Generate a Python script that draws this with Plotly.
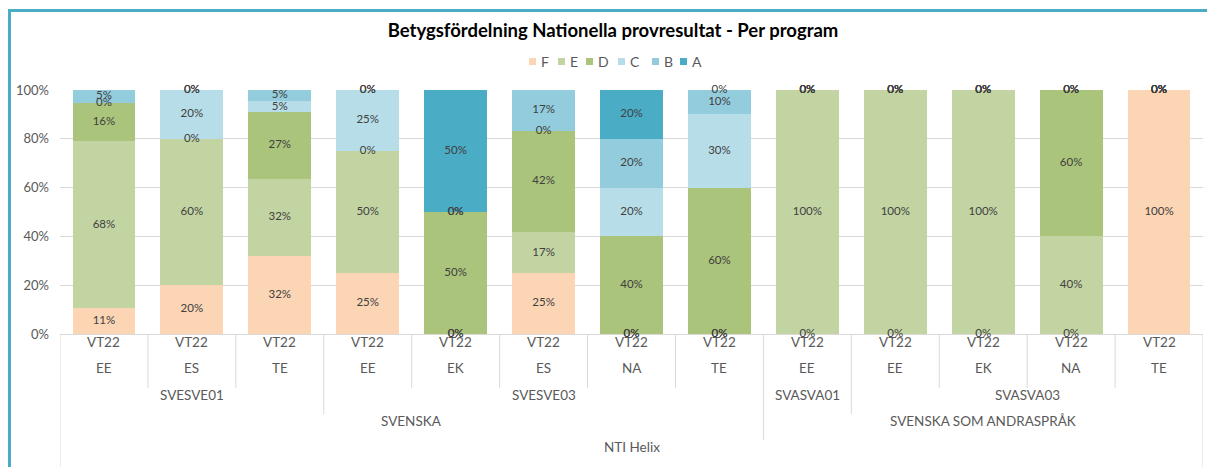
import plotly.graph_objects as go

# ---------------- data ----------------
terms = ["VT22"] * 13
programs = ["EE", "ES", "TE", "EE", "EK", "ES", "NA", "TE", "EE", "EE", "EK", "NA", "TE"]
courses = ["SVESVE01"] * 3 + ["SVESVE03"] * 5 + ["SVASVA01"] + ["SVASVA03"] * 4
subjects = ["SVENSKA"] * 8 + ["SVENSKA SOM ANDRASPRÅK"] * 5
schools = ["NTI Helix"] * 13

grades = ["F", "E", "D", "C", "B", "A"]
F = [10.53, 20, 31.82, 25, 0, 25, 0, 0, 0, 0, 0, 0, 100]
E = [68.42, 60, 31.82, 50, 0, 16.67, 0, 0, 100, 100, 100, 40, 0]
D = [15.79, 0, 27.27, 0, 50, 41.67, 40, 60, 0, 0, 0, 60, 0]
C = [0, 20, 4.55, 25, 0, 0, 20, 30, 0, 0, 0, 0, 0]
B = [5.26, 0, 4.55, 0, 0, 16.67, 20, 10, 0, 0, 0, 0, 0]
A = [0, 0, 0, 0, 50, 0, 20, 0, 0, 0, 0, 0, 0]
series = [F, E, D, C, B, A]
colors = ["#FCD5B5", "#C3D4A3", "#AAC47B", "#B7DEE8", "#93CDDD", "#4BACC6"]

y_ticks = [0, 20, 40, 60, 80, 100]
y_ticktext = ["0%", "20%", "40%", "60%", "80%", "100%"]
title_text = "Betygsfördelning Nationella provresultat - Per program"

# ---------------- geometry ----------------
# the page body adds an 8px margin, so figure pixel = page pixel - OFF
OFF = 8
PAGE_W, PAGE_H = 1215, 467
W, H = PAGE_W - OFF, PAGE_H - OFF
PAGE_L, PAGE_R, PAGE_T, PAGE_B = 60, 1203, 90, 334
ML = PAGE_L - OFF
MT = PAGE_T - OFF
MR = W - (PAGE_R - OFF)
MB = H - (PAGE_B - OFF)
PW = PAGE_R - PAGE_L
PH = PAGE_B - PAGE_T


def py(p):
    """page pixel row -> paper y"""
    return (PAGE_B - p) / PH


def px(p):
    """page pixel col -> paper x"""
    return (p - PAGE_L) / PW


AXIS_FONT = "Lato"
LABEL_FONT = "Lato"
n = len(programs)
xs = list(range(n))

fig = go.Figure()

# stacked bars
for g, vals, col in zip(grades, series, colors):
    fig.add_trace(go.Bar(
        x=xs, y=vals, name=g, marker=dict(color=col, line=dict(width=0)),
        showlegend=False, hoverinfo="skip",
    ))

# data labels at segment centres (including 0% labels)
base = [0.0] * n
for g, vals in zip(grades, series):
    ys = [b + v / 2 for b, v in zip(base, vals)]
    txt = [f"{round(v):d}%" for v in vals]
    fig.add_trace(go.Scatter(
        x=xs, y=ys, mode="text", text=txt, showlegend=False, hoverinfo="skip",
        textfont=dict(family=LABEL_FONT, size=11.5, color="#404040"),
        cliponaxis=False,
    ))
    base = [b + v for b, v in zip(base, vals)]

annotations = []
shapes = []
axis_font = dict(family=AXIS_FONT, size=13.5, color="#595959")

# ---- category axis (multi-level) ----
for i in xs:
    annotations.append(dict(x=i, y=py(352), xref="x", yref="paper", text=terms[i],
                            showarrow=False, font=axis_font))
    annotations.append(dict(x=i, y=py(378), xref="x", yref="paper", text=programs[i],
                            showarrow=False, font=axis_font))


def runs(labels):
    out = []
    s = 0
    for i in range(1, len(labels) + 1):
        if i == len(labels) or labels[i] != labels[s]:
            out.append((labels[s], s, i - 1))
            s = i
    return out


level_rows = [(courses, 405), (subjects, 431), (schools, 457)]
for labels, ytext in level_rows:
    for lab, s, e in runs(labels):
        annotations.append(dict(x=(s + e) / 2, y=py(ytext), xref="x", yref="paper", text=lab,
                                showarrow=False, font=axis_font))

# divider lines
line_col = "#D9D9D9"
for i in range(n - 1):
    b = i + 0.5
    end = 388
    if courses[i] != courses[i + 1]:
        end = 414
    if subjects[i] != subjects[i + 1]:
        end = 440
    shapes.append(dict(type="line", xref="x", yref="paper", x0=b, x1=b, y0=py(PAGE_B), y1=py(end),
                       line=dict(color=line_col, width=1)))
for b in (-0.5, n - 0.5):
    shapes.append(dict(type="line", xref="x", yref="paper", x0=b, x1=b, y0=py(PAGE_B), y1=py(490),
                       line=dict(color=line_col, width=1)))

# chart border (teal frame: left and top edges visible)
frame = dict(color="#4BACC6", width=3)
shapes.append(dict(type="line", xref="paper", yref="paper", x0=px(9.5), x1=px(9.5), y0=py(9), y1=py(520),
                   line=frame))
shapes.append(dict(type="line", xref="paper", yref="paper", x0=px(8), x1=px(1260), y0=py(10.5), y1=py(10.5),
                   line=frame))

# ---- legend ----
leg_x0 = 529
leg_steps = [0, 29, 57, 89, 123, 151]
for k, (g, col) in enumerate(zip(grades, colors)):
    sx = leg_x0 + leg_steps[k]
    shapes.append(dict(type="rect", xref="paper", yref="paper", x0=px(sx), x1=px(sx + 7),
                       y0=py(65), y1=py(58), line=dict(width=0), fillcolor=col))
    annotations.append(dict(x=px(sx + 9.5), y=py(61.5), xref="paper", yref="paper", text=g,
                            xanchor="left", yanchor="middle", showarrow=False,
                            font=dict(family=AXIS_FONT, size=14, color="#595959")))

fig.update_layout(
    width=W, height=H, autosize=False,
    margin=dict(l=ML, r=MR, t=MT, b=MB, autoexpand=False),
    paper_bgcolor="white", plot_bgcolor="white",
    barmode="stack", bargap=0.285,
    title=dict(text=f"<b>{title_text}</b>", x=(613 - OFF) / W, xanchor="center", xref="container",
               y=1 - (31 - OFF) / H, yanchor="middle", yref="container",
               font=dict(family="Lato", size=18.5, color="#000000")),
    xaxis=dict(range=[-0.5, n - 0.5], showticklabels=False, showgrid=False, zeroline=False,
               showline=False, ticks="", automargin=False),
    yaxis=dict(range=[0, 100], tickvals=y_ticks, ticktext=y_ticktext, showgrid=True, gridcolor=line_col,
               gridwidth=1, zeroline=True, zerolinecolor=line_col, zerolinewidth=1, showline=False,
               ticks="", ticklabelstandoff=10, automargin=False,
               tickfont=dict(family=AXIS_FONT, size=13, color="#595959")),
    annotations=annotations, shapes=shapes,
    showlegend=False,
)

fig.write_html("out.html")
